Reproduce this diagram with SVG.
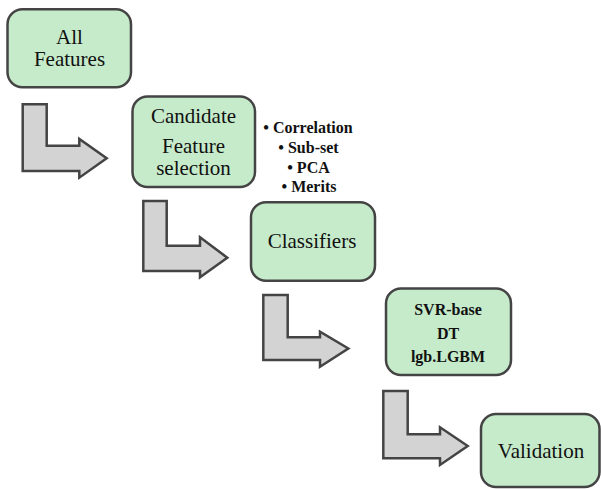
<svg xmlns="http://www.w3.org/2000/svg" width="601" height="489" viewBox="0 0 601 489">
<style>
.box{fill:#c6ebcb;stroke:#444;stroke-width:2.5}
.arr{fill:#d3d3d3;stroke:#444;stroke-width:2.5;stroke-linejoin:miter}
.t{font-family:'Liberation Serif',serif;font-size:21px;fill:#111;text-anchor:middle}
.b{font-family:'Liberation Serif',serif;font-size:16px;font-weight:bold;fill:#111;text-anchor:middle}
</style>
<rect width="601" height="489" fill="#fff"/>
<g id="connectors">
<path class="arr" d="M22.7,104.3 H46.7 V145.7 H79.3 V139 L106.7,158.3 L79.3,177.7 V171 H22.7 Z"/>
<path class="arr" d="M143.3,201 H166.7 V245.7 H200 V237.3 L227.3,257.7 L200,277.3 V271 H143.3 Z"/>
<path class="arr" d="M263.3,295 H287.7 V337.3 H320 V331.7 L348.3,348.5 L320,366.7 V360 H263.3 Z"/>
<path class="arr" d="M383.3,391 H407.7 V434.3 H440 V427.3 L467.7,446 L440,465 V458.3 H383.3 Z"/>
</g>
<g id="all-features">
<rect class="box" x="7.5" y="9.3" width="123.5" height="78" rx="15"/>
<text class="t" x="69.5" y="44" font-family="Liberation Serif, serif">All</text>
<text class="t" x="69.5" y="65.7" font-family="Liberation Serif, serif">Features</text>
</g>
<g id="candidate">
<rect class="box" x="132.5" y="96.5" width="122.5" height="90.5" rx="15"/>
<text class="t" x="193.5" y="122.5">Candidate</text>
<text class="t" x="193.5" y="153.3">Feature</text>
<text class="t" x="193.5" y="175">selection</text>
</g>
<g id="methods">
<text class="b" x="308" y="133">• Correlation</text>
<text class="b" x="308.5" y="153">• Sub-set</text>
<text class="b" x="308.5" y="172.5">• PCA</text>
<text class="b" x="309" y="192">• Merits</text>
</g>
<g id="classifiers">
<rect class="box" x="251" y="202.3" width="124" height="78.4" rx="15"/>
<text class="t" x="312" y="248">Classifiers</text>
</g>
<g id="models">
<rect class="box" x="386" y="288.5" width="125" height="86.5" rx="15"/>
<text class="b" x="448" y="314.5">SVR-base</text>
<text class="b" x="448" y="338.5">DT</text>
<text class="b" x="448" y="362">lgb.LGBM</text>
</g>
<g id="validation">
<rect class="box" x="481" y="414" width="118.5" height="73" rx="15"/>
<text class="t" x="541" y="458">Validation</text>
</g>
</svg>
